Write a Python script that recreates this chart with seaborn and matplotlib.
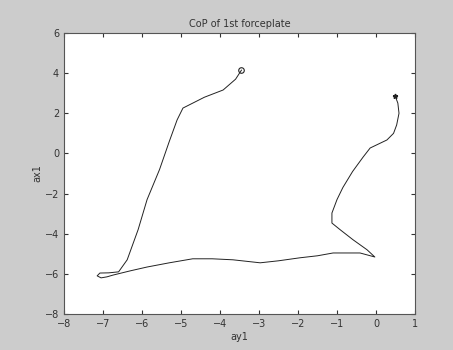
import numpy as np
import pandas as pd
import matplotlib
matplotlib.use("Agg")
import matplotlib.pyplot as plt
import seaborn as sns

# CoP trace (start at circle, end at star)
cop_x = [-3.45, -3.6, -3.92, -4.4, -4.95, -5.1, -5.3, -5.55, -5.87, -6.1, -6.38, -6.6,
         -6.85, -7.08, -7.15, -7.05, -6.9, -6.74, -6.3, -5.87, -5.3, -4.7, -4.2, -3.67,
         -2.97, -2.5, -1.95, -1.5, -1.1, -0.41, -0.03, -0.23, -0.59, -0.92, -1.13,
         -1.13, -1.0, -0.85, -0.6, -0.33, -0.15, 0.28, 0.45, 0.53, 0.59, 0.56, 0.49]
cop_y = [4.15, 3.7, 3.16, 2.8, 2.26, 1.67, 0.6, -0.8, -2.3, -3.8, -5.3, -5.9,
         -5.95, -5.96, -6.1, -6.2, -6.15, -6.06, -5.85, -5.66, -5.45, -5.25, -5.25, -5.3,
         -5.45, -5.35, -5.2, -5.1, -4.96, -4.96, -5.16, -4.8, -4.3, -3.8, -3.47,
         -2.97, -2.3, -1.7, -0.9, -0.18, 0.27, 0.67, 1.0, 1.42, 2.0, 2.51, 2.86]

df = pd.DataFrame({"ay1": cop_x, "ax1": cop_y})

fig = plt.figure(figsize=(4.53, 3.5), dpi=100, facecolor="#cccccc")
ax = fig.add_axes([0.1413, 0.1029, 0.7748, 0.8028])
sns.lineplot(data=df, x="ay1", y="ax1", sort=False, estimator=None,
             color="#222222", linewidth=0.7, ax=ax)
ax.plot(cop_x[0], cop_y[0], marker="o", mfc="none", mec="#222222", ms=4, mew=0.8)
ax.plot(cop_x[-1], cop_y[-1], marker="*", color="#222222", ms=3.5)

ax.set_xlim(-8, 1)
ax.set_ylim(-8, 6)
ax.set_xticks(range(-8, 2))
ax.set_yticks(range(-8, 7, 2))
ax.tick_params(direction="in", top=True, right=True, labelsize=7, length=3,
               colors="#333333")
ax.set_xlabel("ay1", fontsize=7, labelpad=2, color="#333333")
ax.set_ylabel("ax1", fontsize=7, labelpad=2, color="#333333")
ax.set_title("CoP of 1st forceplate", fontsize=7, pad=4, color="#333333")
ax.set_facecolor("white")
for s in ax.spines.values():
    s.set_color("#555555")

fig.savefig("out.png", dpi=100, facecolor=fig.get_facecolor())
